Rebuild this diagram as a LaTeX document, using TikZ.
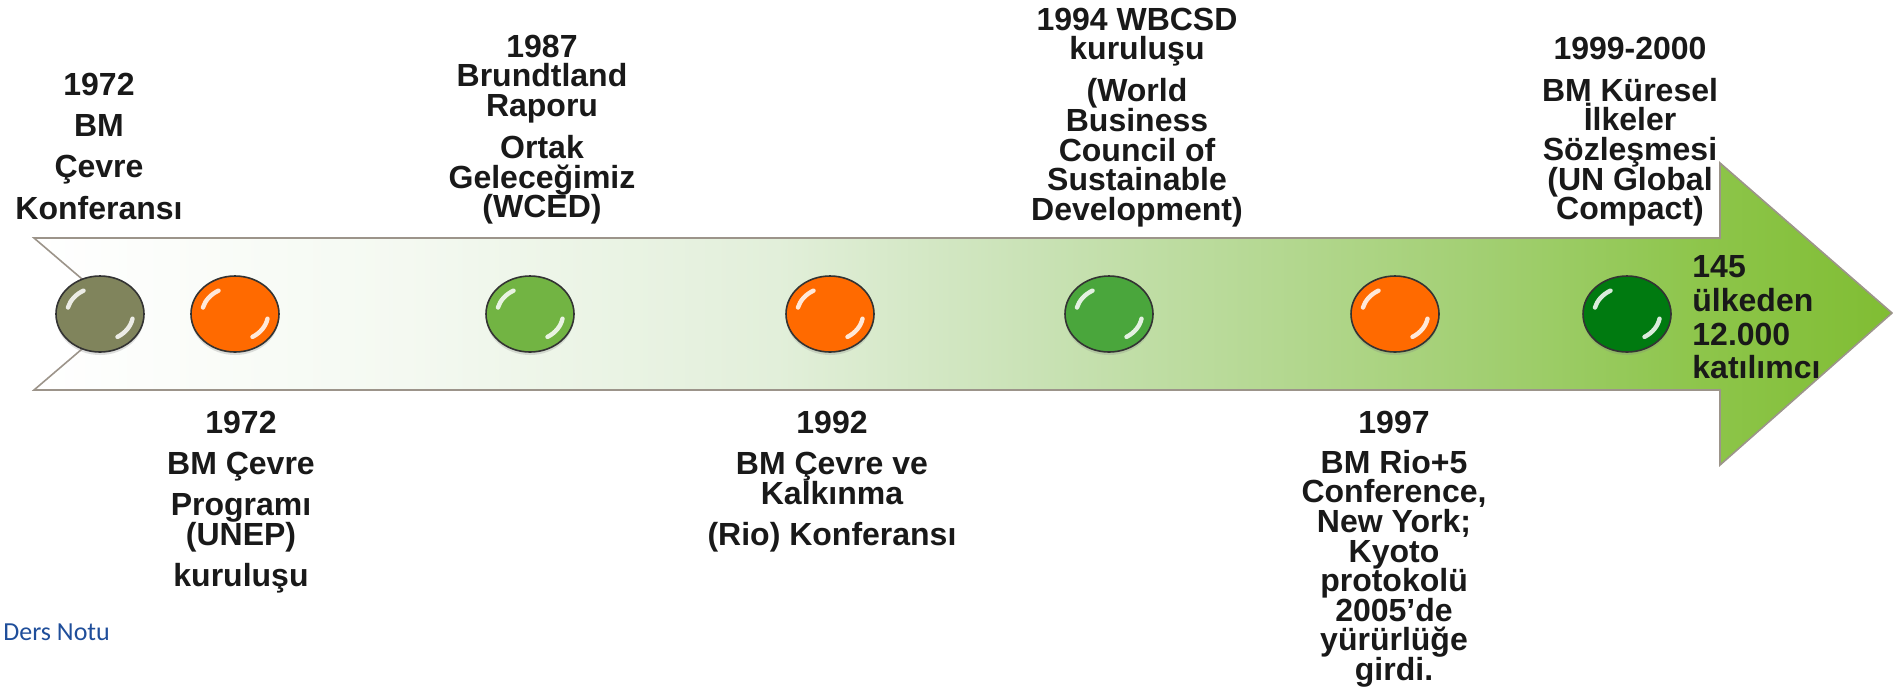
\documentclass[tikz,border=0pt]{standalone}
\usepackage{fontspec}
\setmainfont{Liberation Sans}
\newfontfamily\notefont{Carlito}
\usepackage{tikz}
\usepackage{xcolor}
\usetikzlibrary{shapes,arrows,positioning,calc,shadows}
\definecolor{olivedot}{RGB}{128,132,92}
\definecolor{orangedot}{RGB}{255,106,0}
\definecolor{lightdot}{RGB}{114,180,67}
\definecolor{middot}{RGB}{74,166,60}
\definecolor{darkdot}{RGB}{0,122,16}
\definecolor{fadeA}{RGB}{244,249,241}
\definecolor{fadeB}{RGB}{226,239,218}
\definecolor{fadeC}{RGB}{201,226,181}
\definecolor{fadeD}{RGB}{162,207,114}
\definecolor{fadeE}{RGB}{141,197,74}
\definecolor{fadeF}{RGB}{128,189,51}
\definecolor{arrowline}{RGB}{156,148,138}
\definecolor{notecolor}{RGB}{31,78,154}
\pgfdeclarehorizontalshading{timefade}{100bp}{color(0bp)=(white); color(25bp)=(white); color(35bp)=(fadeA); color(45bp)=(fadeB); color(52bp)=(fadeC); color(64bp)=(fadeD); color(70bp)=(fadeE); color(75bp)=(fadeF); color(100bp)=(fadeF)}
\newcommand\labelfont{\fontsize{16}{14.8}\selectfont\bfseries\lineskiplimit=-20pt\relax}

\begin{document}
\begin{tikzpicture}[
    x=0.5pt, y=-0.5pt,
    every node/.style={font=\small},
    timeline/.style={shading=timefade, draw=arrowline, line width=0.8pt, line join=miter},
    dot/.style={ellipse, draw=black!80, line width=0.8pt, minimum width=44pt, minimum height=38pt, inner sep=0pt,
        drop shadow={opacity=0.25, shadow xshift=0pt, shadow yshift=-1.5pt},
        path picture={
            \draw[white, line width=2.2pt, line cap=round, opacity=0.85]
                ($(path picture bounding box.center)+(166:16.5pt and 13.5pt)$) arc[start angle=166, end angle=120, x radius=16.5pt, y radius=13.5pt];
            \draw[white, line width=2.2pt, line cap=round, opacity=0.85]
                ($(path picture bounding box.center)+(-10:16.5pt and 13.5pt)$) arc[start angle=-10, end angle=-58, x radius=16.5pt, y radius=13.5pt];
        }},
    lbl/.style={font=\labelfont, align=center, inner sep=0pt, anchor=north, text=black!90},
    sidelbl/.style={font=\labelfont, align=left, inner sep=0pt, anchor=north west, text=black!90},
    note/.style={font=\fontsize{13}{15}\notefont, text=notecolor, inner sep=0pt, anchor=base west}
]
\useasboundingbox (0,0) rectangle (1893,687);

% Timeline arrow
\path[timeline] (34,238) -- (1720,238) -- (1720,163) -- (1892,313) -- (1720,465)
    -- (1720,390) -- (34,390) -- (123,314) -- cycle;

% Milestones
\node[dot, fill=olivedot] (c1) at (100,314) {};
\node[dot, fill=orangedot] (c2) at (235,314) {};
\node[dot, fill=lightdot] (c3) at (530,314) {};
\node[dot, fill=orangedot] (c4) at (830,314) {};
\node[dot, fill=middot] (c5) at (1109,314) {};
\node[dot, fill=orangedot] (c6) at (1395,314) {};
\node[dot, fill=darkdot] (c7) at (1627,314) {};

% Labels above
\node[lbl] (stockholm) at (99,73) {1972\\[5.75pt]BM\\[5.75pt]Çevre\\[5.75pt]Konferansı};
\node[lbl] (brundtland) at (542,34.5) {1987\\Brundtland\\Raporu\\[6.25pt]Ortak\\Geleceğimiz\\(WCED)};
\node[lbl] (wbcsd) at (1137,7.5) {1994 WBCSD\\kuruluşu\\[6.25pt](World\\Business\\Council of\\Sustainable\\Development)};
\node[lbl] (compact) at (1630,36.5) {1999-2000\\[6.25pt]BM Küresel\\İlkeler\\Sözleşmesi\\(UN Global\\Compact)};

% Labels below
\node[lbl] (unep) at (241,411) {1972\\[5.75pt]BM Çevre\\[5.75pt]Programı\\(UNEP)\\[5.75pt]kuruluşu};
\node[lbl] (rio) at (832,411) {1992\\[5.75pt]BM Çevre ve\\Kalkınma\\[5.75pt](Rio) Konferansı};
\node[lbl] (kyoto) at (1394,411) {1997\\[5pt]BM Rio+5\\Conference,\\New York;\\Kyoto\\protokolü\\2005’de\\yürürlüğe\\girdi.};

% Participants
\node[sidelbl] (members) at (1692,255.5) {145\\[2pt]ülkeden\\[2pt]12.000\\[2pt]katılımcı};

% Footer
\node[note] (footer) at (3,640) {Ders Notu};

\end{tikzpicture}
\end{document}
